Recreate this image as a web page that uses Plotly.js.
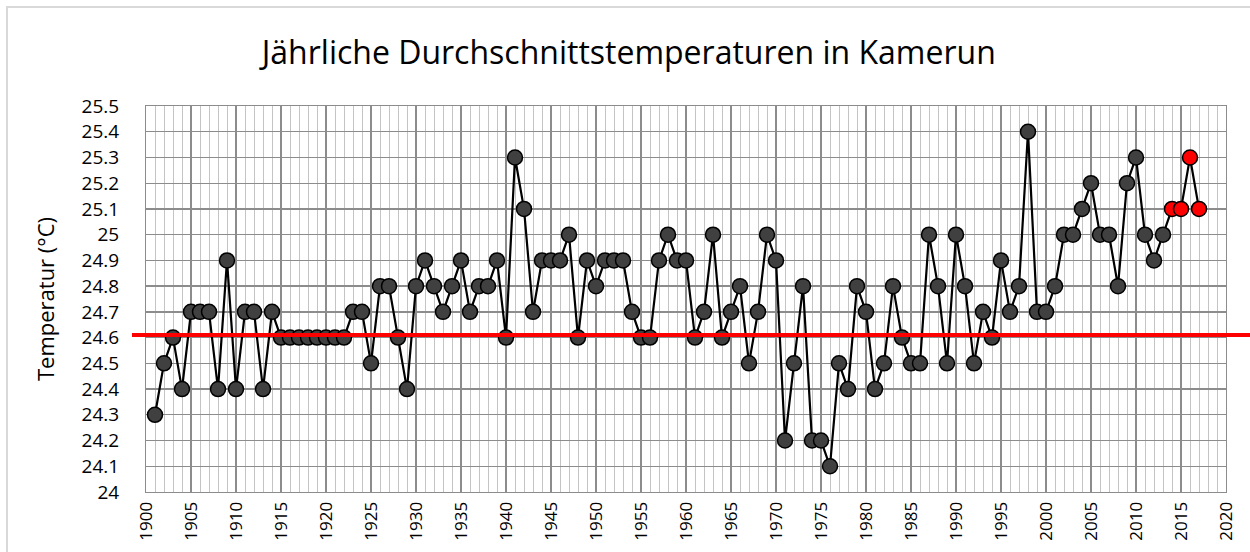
<!DOCTYPE html>
<html><head><meta charset="utf-8">
<script src="https://cdn.plot.ly/plotly-3.0.1.min.js"></script>
<style>
html,body{margin:0;padding:0;background:#fff;overflow:hidden;}
#wrap{position:relative;width:1250px;height:552px;}
#chart{width:1250px;height:552px;}
#frame{position:absolute;left:6px;top:6px;width:1260px;height:560px;border:2px solid #d9d9d9;pointer-events:none;}
</style></head>
<body>
<div id="wrap"><div id="chart"></div><div id="frame"></div></div>
<script>
const years = [];
for (let y = 1901; y <= 2017; y++) years.push(y);
const temps = [
 24.3,24.5,24.6,24.4,24.7,24.7,24.7,24.4,24.9,24.4,
 24.7,24.7,24.4,24.7,24.6,24.6,24.6,24.6,24.6,24.6,
 24.6,24.6,24.7,24.7,24.5,24.8,24.8,24.6,24.4,24.8,
 24.9,24.8,24.7,24.8,24.9,24.7,24.8,24.8,24.9,24.6,
 25.3,25.1,24.7,24.9,24.9,24.9,25.0,24.6,24.9,24.8,
 24.9,24.9,24.9,24.7,24.6,24.6,24.9,25.0,24.9,24.9,
 24.6,24.7,25.0,24.6,24.7,24.8,24.5,24.7,25.0,24.9,
 24.2,24.5,24.8,24.2,24.2,24.1,24.5,24.4,24.8,24.7,
 24.4,24.5,24.8,24.6,24.5,24.5,25.0,24.8,24.5,25.0,
 24.8,24.5,24.7,24.6,24.9,24.7,24.8,25.4,24.7,24.7,
 24.8,25.0,25.0,25.1,25.2,25.0,25.0,24.8,25.2,25.3,
 25.0,24.9,25.0,25.1,25.1,25.3,25.1
];
const highlightYears = [2014, 2015, 2016, 2017];
const meanTemp = 24.61;
const xTickVals = [];
for (let y = 1900; y <= 2020; y += 5) xTickVals.push(y);
const yTickVals = [24,24.1,24.2,24.3,24.4,24.5,24.6,24.7,24.8,24.9,25,25.1,25.2,25.3,25.4,25.5];
const yTickText = ['24','24.1','24.2','24.3','24.4','24.5','24.6','24.7','24.8','24.9','25','25.1','25.2','25.3','25.4','25.5'];

const markerColors = years.map(y => highlightYears.includes(y) ? '#ff0000' : '#404040');
const FONT = '"Open Sans", "Noto Sans", sans-serif';

const trace = {
  x: years, y: temps, type: 'scatter', mode: 'lines+markers',
  line: {color: '#000000', width: 2.2},
  marker: {size: 15, color: markerColors, line: {color: '#000000', width: 1.5}},
  hoverinfo: 'x+y', showlegend: false
};

const layout = {
  width: 1250, height: 552,
  margin: {l: 146, r: 24, t: 106, b: 60},
  paper_bgcolor: '#ffffff', plot_bgcolor: '#ffffff',
  font: {family: FONT, color: '#000000'},
  title: {text: 'Jährliche Durchschnittstemperaturen in Kamerun', x: 0.503, xref: 'container', xanchor: 'center', y: 0.905, yref: 'container', yanchor: 'middle', font: {family: FONT, size: 32, color: '#000000'}},
  xaxis: {
    range: [1900, 2020], tickmode: 'array', tickvals: xTickVals, ticktext: xTickVals.map(String),
    tickangle: -90, tickfont: {family: FONT, size: 17, color: '#000'},
    showgrid: true, gridcolor: '#8c8c8c', gridwidth: 1.2,
    minor: {dtick: 1, tick0: 1900, showgrid: true, gridcolor: '#c4c4c4', gridwidth: 1},
    showline: true, linecolor: '#8c8c8c', linewidth: 1, mirror: true,
    zeroline: false, ticks: '', ticklabelstandoff: 2, fixedrange: true
  },
  yaxis: {
    range: [24, 25.5], tickmode: 'array', tickvals: yTickVals, ticktext: yTickText,
    tickfont: {family: FONT, size: 19, color: '#000'},
    showgrid: true, gridcolor: '#8c8c8c', gridwidth: 1.4,
    showline: true, linecolor: '#8c8c8c', linewidth: 1, mirror: true,
    zeroline: false, ticks: '', ticklabelstandoff: 22,
    title: {text: 'Temperatur (°C)', font: {family: FONT, size: 22, color: '#000'}, standoff: 20},
    fixedrange: true
  },
  shapes: [{
    type: 'line', xref: 'paper', yref: 'y',
    x0: (132 - 146) / 1080, x1: (1250 - 146) / 1080, y0: meanTemp, y1: meanTemp,
    line: {color: '#ff0000', width: 4}, layer: 'above'
  }]
};
Plotly.newPlot('chart', [trace], layout, {displayModeBar: false, staticPlot: true});
</script>
</body></html>
